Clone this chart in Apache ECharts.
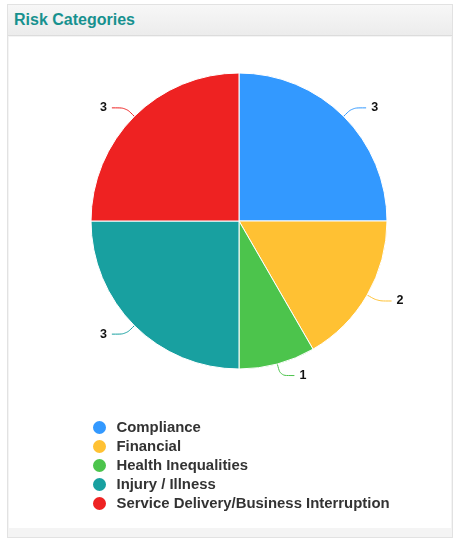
<!DOCTYPE html>
<html>
<head>
<meta charset="utf-8">
<script src="https://cdn.jsdelivr.net/npm/echarts@6/dist/echarts.min.js"></script>
<style>
  html, body { margin: 0; padding: 0; background: #ffffff; }
  #panel {
    position: absolute; left: 7px; top: 4px; width: 446px; height: 534px;
    border: 1px solid #e2e2e2; background: #f4f4f4; box-sizing: border-box;
  }
  #header {
    position: absolute; left: 0; top: 0; width: 100%; height: 31px;
    background: linear-gradient(#f7f7f7, #ececec);
    border-bottom: 1px solid #dcdcdc;
    font-family: "Liberation Sans", Arial, sans-serif; font-weight: bold;
    font-size: 16px; color: #17918f; line-height: 29px; padding-left: 6px;
    box-sizing: border-box;
  }
  #chart {
    position: absolute; left: 1px; top: 32px; width: 442px; height: 491px;
    background: #ffffff;
  }
</style>
</head>
<body>
<div id="panel">
  <div id="header">Risk Categories</div>
  <div id="chart"></div>
</div>
<script>
const categories = ['Compliance', 'Financial', 'Health Inequalities', 'Injury / Illness', 'Service Delivery/Business Interruption'];
const counts = [3, 2, 1, 3, 3];
const colors = ['#3399ff', '#ffc133', '#4cc44c', '#18a0a0', '#ee2222'];

const chart = echarts.init(document.getElementById('chart'), null, { renderer: 'canvas' });

chart.setOption({
  color: colors,
  animation: false,
  legend: {
    orient: 'vertical',
    left: 77,
    top: 377,
    height: 110,
    icon: 'circle',
    itemWidth: 24,
    itemHeight: 15,
    itemGap: 2,
    symbolKeepAspect: true,
    textStyle: {
      fontFamily: 'Liberation Sans, Arial, sans-serif',
      fontWeight: 'bold',
      fontSize: 14.9,
      lineHeight: 14,
      color: '#333333'
    },
    data: categories
  },
  series: [{
    type: 'pie',
    center: [230, 184],
    radius: 148,
    startAngle: 90,
    clockwise: true,
    itemStyle: { borderColor: '#ffffff', borderWidth: 1 },
    label: {
      show: true,
      formatter: '{c}',
      fontFamily: 'Liberation Sans, Arial, sans-serif',
      fontWeight: 'bold',
      fontSize: 12.5,
      color: '#111111'
    },
    labelLine: { show: true, length: 12, length2: 14, smooth: true, lineStyle: { width: 1 } },
    data: categories.map((name, i) => ({ name: name, value: counts[i] }))
  }]
});
</script>
</body>
</html>
